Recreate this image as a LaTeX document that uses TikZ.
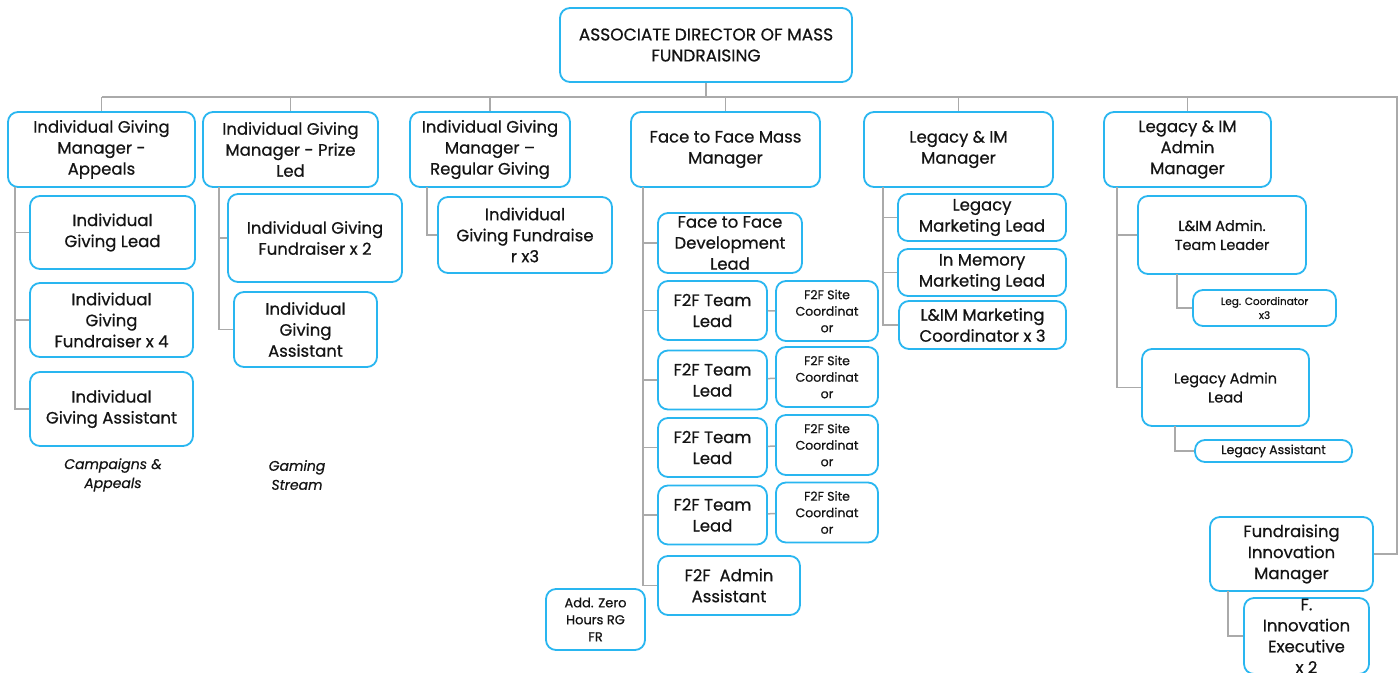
\documentclass[tikz,border=0pt]{standalone}
\usepackage{fontspec}
\setmainfont{Poppins}[FakeBold=0.6]
\definecolor{boxblue}{RGB}{41,182,240}
\definecolor{linegray}{RGB}{170,170,170}
\definecolor{txt}{RGB}{20,20,20}
\tikzset{box/.style={rectangle,rounded corners=10pt,draw=boxblue,line width=1.8pt,fill=white,
    align=center,inner sep=0pt,text=txt,font=\fontsize{16.5}{21}\selectfont}}
\tikzset{wh/.style 2 args={minimum width=#1pt,minimum height=#2pt}}
\tikzset{small/.style={font=\fontsize{12.5}{16.5}\selectfont}}
\tikzset{mid/.style={font=\fontsize{14.5}{19}\selectfont}}
\tikzset{note/.style={align=center,text=txt,font=\itshape\fontsize{14}{19}\selectfont}}
\tikzset{link/.style={draw=linegray,line width=1.5pt}}

\begin{document}
\begin{tikzpicture}[x=1pt,y=-1pt]
  \useasboundingbox (0,0) rectangle (1399,672);
  % top
  \node[box,wh={292}{74},font=\fontsize{17}{21}\selectfont] (dir) at (706,45) {ASSOCIATE DIRECTOR OF MASS\\FUNDRAISING};
  % managers
  \node[box,wh={187}{75}] (igA) at (101.5,149.5) {Individual Giving\\Manager -\\Appeals};
  \node[box,wh={175}{75}] (igP) at (290.5,149.5) {Individual Giving\\Manager - Prize\\Led};
  \node[box,wh={160}{75}] (igR) at (490,149.5) {Individual Giving\\Manager --\\Regular Giving};
  \node[box,wh={189}{75}] (ffm) at (725.5,149.5) {Face to Face Mass\\Manager};
  \node[box,wh={189}{75}] (lim) at (958.5,149.5) {Legacy \& IM\\Manager};
  \node[box,wh={167}{75}] (lia) at (1187.5,149.5) {Legacy \& IM\\Admin\\Manager};
  \node[box,wh={163}{74}] (fim) at (1291.5,554) {Fundraising\\Innovation\\Manager};
  % individual giving
  \node[box,wh={165}{73}] (igl) at (112.5,232.5) {Individual\\Giving Lead};
  \node[box,wh={163}{74}] (igf4) at (111.5,320) {Individual\\Giving\\Fundraiser x 4};
  \node[box,wh={163}{74}] (iga) at (111.5,409) {Individual\\Giving Assistant};
  \node[box,wh={174}{88}] (igf2) at (315,238) {Individual Giving\\Fundraiser x 2};
  \node[box,wh={143}{75}] (iga2) at (305.5,329.5) {Individual\\Giving\\Assistant};
  \node[box,wh={174}{76}] (igf3) at (525,235) {Individual\\Giving Fundraise\\r x3};
  \node[note] (camp) at (113,475) {Campaigns \&\\Appeals};
  \node[note] (game) at (297,475) {Gaming\\Stream};
  % face to face
  \node[box,wh={144}{60}] (fdl) at (730,243) {Face to Face\\Development\\Lead};
  \node[box,wh={109}{59}] (tl1) at (712.5,310.5) {F2F Team\\Lead};
  \node[box,wh={109}{59}] (tl2) at (712.5,380) {F2F Team\\Lead};
  \node[box,wh={109}{59}] (tl3) at (712.5,447.5) {F2F Team\\Lead};
  \node[box,wh={109}{59}] (tl4) at (712.5,515) {F2F Team\\Lead};
  \node[box,small,wh={102}{60}] (sc1) at (827,311) {F2F Site\\Coordinat\\or};
  \node[box,small,wh={102}{60}] (sc2) at (827,377) {F2F Site\\Coordinat\\or};
  \node[box,small,wh={102}{60}] (sc3) at (827,445) {F2F Site\\Coordinat\\or};
  \node[box,small,wh={102}{60}] (sc4) at (827,512.5) {F2F Site\\Coordinat\\or};
  \node[box,wh={142}{59}] (faa) at (729,585.5) {F2F\ \ Admin\\Assistant};
  \node[box,wh={99}{61},font=\fontsize{13}{17}\selectfont] (azh) at (595.5,619.5) {Add. Zero\\Hours RG\\FR};
  % legacy
  \node[box,wh={168}{47}] (lml) at (982,217.5) {Legacy\\Marketing Lead};
  \node[box,wh={168}{47}] (iml) at (982,272.5) {In Memory\\Marketing Lead};
  \node[box,wh={167}{48}] (lmc) at (982.5,325) {L\&IM Marketing\\Coordinator x 3};
  \node[box,mid,wh={168}{78}] (atl) at (1222,235) {L\&IM Admin.\\Team Leader};
  \node[box,wh={143}{36},font=\fontsize{10.5}{14}\selectfont] (lco) at (1264.5,308) {Leg. Coordinator\\x3};
  \node[box,mid,wh={167}{77}] (lal) at (1225.5,387.5) {Legacy Admin\\Lead};
  \node[box,wh={157}{22},font=\fontsize{12.5}{14}\selectfont] (las) at (1273.5,451) {Legacy Assistant};
  \node[box,wh={125}{76}] (fie) at (1306.5,636) {F.\\Innovation\\Executive\\x 2};
  % bus
  \coordinate (bus) at (706,97);
  \coordinate (busR) at (1397,97);
  \draw[link] (dir.south) -- (bus);
  \draw[link] (igA.north |- bus) -- (busR) |- (fim.east);
  \foreach \m in {igA,igP,igR,ffm,lim,lia}
    \draw[link] (\m.north) -- (\m.north |- bus);
  % spines
  \coordinate (sp1) at (15,187);
  \coordinate (sp2) at (219,187);
  \coordinate (sp3) at (427,187);
  \coordinate (sp4) at (643,187);
  \coordinate (sp5) at (883,187);
  \coordinate (sp6) at (1117,187);
  \coordinate (sp7) at (1177,274);
  \coordinate (sp8) at (1175,426);
  \coordinate (sp9) at (1228,591);
  \foreach \a/\b in {sp1/igl,sp1/igf4,sp1/iga,sp2/igf2,sp2/iga2,sp3/igf3}
    \draw[link] (\a) |- (\b.west);
  \foreach \a/\b in {sp4/fdl,sp4/tl1,sp4/tl2,sp4/tl3,sp4/tl4,sp4/faa}
    \draw[link] (\a) |- (\b.west);
  \foreach \a/\b in {sp5/lml,sp5/iml,sp5/lmc,sp6/atl,sp6/lal,sp7/lco,sp8/las,sp9/fie}
    \draw[link] (\a) |- (\b.west);
  \foreach \a/\b in {tl1/sc1,tl2/sc2,tl3/sc3,tl4/sc4}
    \draw[link] (\a) -- (\b);
\end{tikzpicture}
\end{document}
